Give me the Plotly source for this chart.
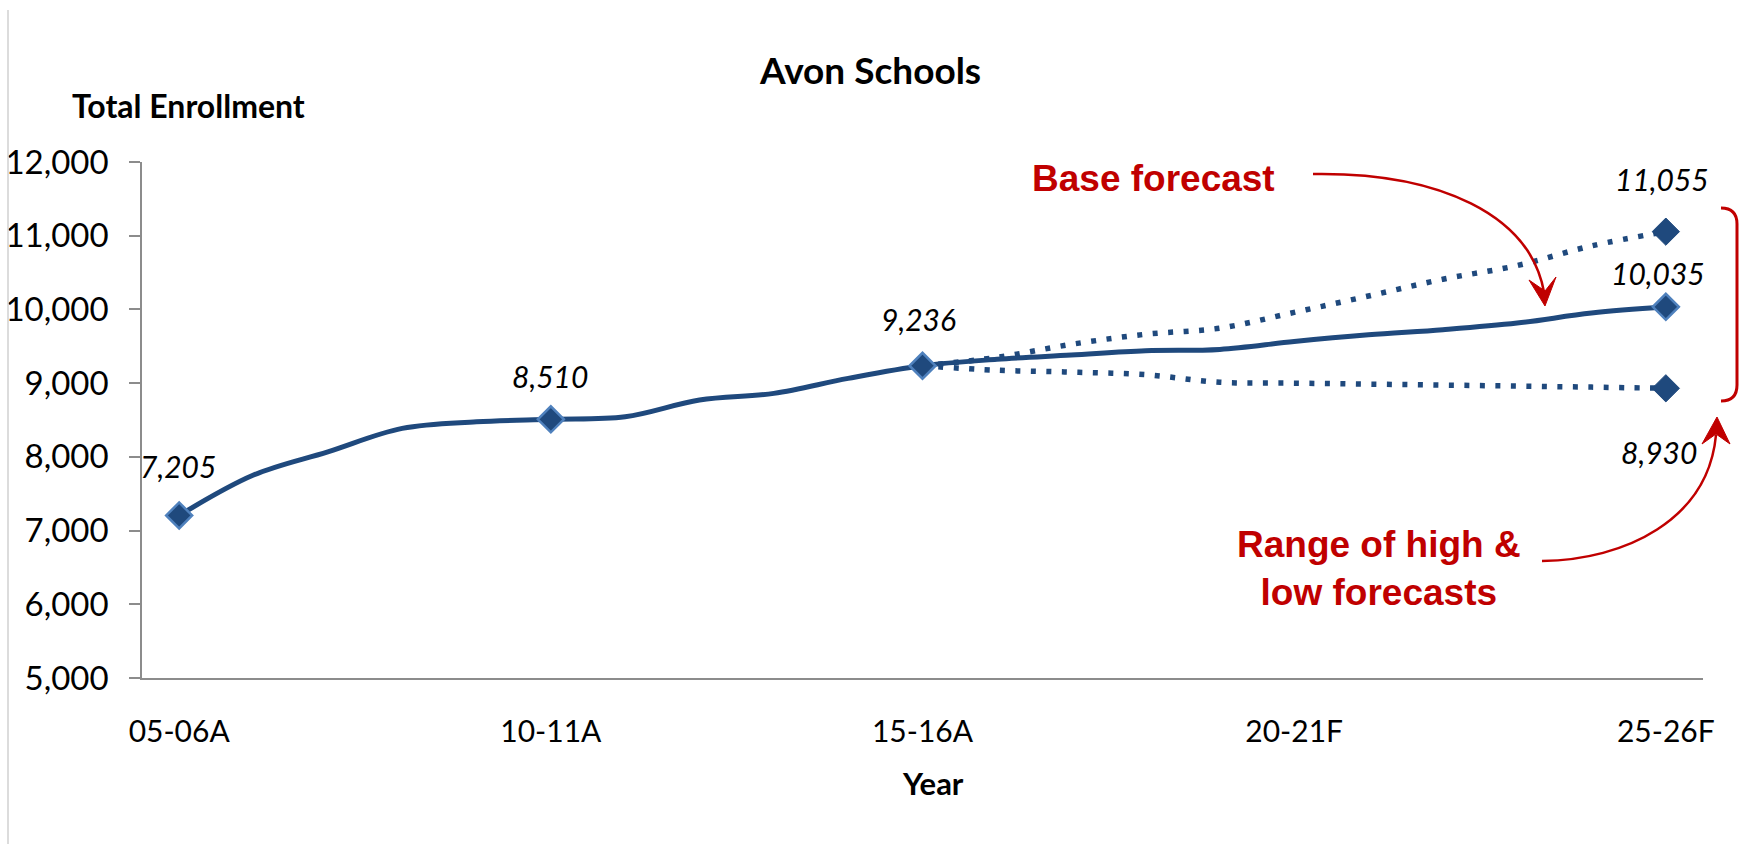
import plotly.graph_objects as go

# ---------------- data ----------------
years = ["05-06A", "06-07A", "07-08A", "08-09A", "09-10A", "10-11A", "11-12A",
         "12-13A", "13-14A", "14-15A", "15-16A", "16-17F", "17-18F", "18-19F",
         "19-20F", "20-21F", "21-22F", "22-23F", "23-24F", "24-25F", "25-26F"]
base = [7205, 7753, 8069, 8387, 8476, 8510, 8544, 8771, 8861, 9065, 9236,
        9323, 9381, 9440, 9458, 9565, 9655, 9725, 9815, 9950, 10035]
forecast_years = years[10:]
high = [9236, 9349, 9526, 9663, 9746, 9960, 10182, 10410, 10595, 10862, 11055]
low = [9236, 9175, 9150, 9115, 9012, 9000, 8987, 8974, 8960, 8946, 8930]
tick_labels = ["05-06A", "10-11A", "15-16A", "20-21F", "25-26F"]
marker_years = ["05-06A", "10-11A", "15-16A", "25-26F"]

# ---------------- layout constants ----------------
W, H = 1741, 844
ML, MR, MT, MB = 142, 38, 162, 166
PW, PH = W - ML - MR, H - MT - MB
BLUE = "#1F497D"
LIGHT = "#4F81BD"
RED = "#C00000"
GREY = "#8C8C8C"
FONT = "Lato"
RFONT = "Liberation Sans"


def pp(x, y):
    return (x - ML) / PW, 1 - (y - MT) / PH


def path_from(cmds):
    out = []
    for c in cmds:
        if isinstance(c, str):
            out.append(c)
        else:
            x, y = pp(*c)
            out.append(f"{x:.5f},{y:.5f}")
    return " ".join(out)


fig = go.Figure()

dotted = dict(color=BLUE, width=5.5, dash="5px,10.5px", shape="spline", smoothing=1)
fig.add_trace(go.Scatter(x=forecast_years, y=high, mode="lines", line=dotted,
                         hoverinfo="skip", showlegend=False))
fig.add_trace(go.Scatter(x=forecast_years, y=low, mode="lines", line=dotted,
                         hoverinfo="skip", showlegend=False))
fig.add_trace(go.Scatter(x=years, y=base, mode="lines",
                         line=dict(color=BLUE, width=5, shape="spline", smoothing=1),
                         showlegend=False))
# end markers for high / low
fig.add_trace(go.Scatter(x=[forecast_years[-1], forecast_years[-1]],
                         y=[high[-1], low[-1]], mode="markers",
                         marker=dict(symbol="diamond", size=21, color=BLUE,
                                     line=dict(color=BLUE, width=1)),
                         showlegend=False))
mvals = [base[years.index(y)] for y in marker_years]
fig.add_trace(go.Scatter(x=marker_years, y=mvals, mode="markers",
                         marker=dict(symbol="diamond", size=20, color=BLUE,
                                     line=dict(color=LIGHT, width=2.5)),
                         showlegend=False))

annotations = []
# data labels
label_specs = [(marker_years[0], mvals[0], -1, 49),
               (marker_years[1], mvals[1], -1, 43),
               (marker_years[2], mvals[2], -4, 47),
               (marker_years[3], mvals[3], -8, 34),
               (forecast_years[-1], high[-1], -4, 53),
               (forecast_years[-1], low[-1], -7, -64)]
for xv, yv, xs, ys in label_specs:
    annotations.append(dict(x=xv, y=yv, xref="x", yref="y", text=f"{yv:,}",
                            showarrow=False, xshift=xs, yshift=ys,
                            xanchor="center", yanchor="middle",
                            font=dict(family=FONT, size=30, color="black", style="italic")))


def text_at(x, y, text, size, family=FONT, color="black", bold=True):
    px, py = pp(x, y)
    annotations.append(dict(x=px, y=py, xref="paper", yref="paper",
                            text=f"<b>{text}</b>" if bold else text,
                            showarrow=False, xanchor="center", yanchor="middle",
                            font=dict(family=family, size=size, color=color)))


text_at(870, 70, "Avon Schools", 37)
text_at(188, 105, "Total Enrollment", 32)
text_at(933, 783, "Year", 31)
text_at(1153, 178, "Base forecast", 37, family=RFONT, color=RED)
annotations.append(dict(x=pp(1379, 0)[0], y=pp(0, 568)[1], xref="paper", yref="paper",
                        text="<b>Range of high &amp;<br>low forecasts</b>",
                        showarrow=False, xanchor="center", yanchor="middle",
                        font=dict(family=RFONT, size=37, color=RED)))

shapes = []
# chart frame left edge
x0, y0 = pp(8, 10)
x1, y1 = pp(8, 844)
shapes.append(dict(type="line", xref="paper", yref="paper", x0=x0, y0=y0, x1=x1, y1=y1,
                   line=dict(color="#D0D0D0", width=1.5)))
# arrow 1 (Base forecast)
shapes.append(dict(type="path", xref="paper", yref="paper",
                   path=path_from(["M", (1313, 174), "C", (1440, 172), (1530, 215), (1544, 292)]),
                   line=dict(color=RED, width=2.5)))
shapes.append(dict(type="path", xref="paper", yref="paper",
                   path=path_from(["M", (1545, 306), "L", (1529, 280), "L", (1545, 291),
                                   "L", (1556, 277), "Z"]),
                   line=dict(color=RED, width=1), fillcolor=RED))
# arrow 2 (Range)
shapes.append(dict(type="path", xref="paper", yref="paper",
                   path=path_from(["M", (1542, 561), "C", (1625, 560), (1708, 520), (1716, 435)]),
                   line=dict(color=RED, width=2.5)))
shapes.append(dict(type="path", xref="paper", yref="paper",
                   path=path_from(["M", (1717, 417), "L", (1702, 444), "L", (1716, 434),
                                   "L", (1730, 444), "Z"]),
                   line=dict(color=RED, width=1), fillcolor=RED))
# bracket
shapes.append(dict(type="path", xref="paper", yref="paper",
                   path=path_from(["M", (1721, 208), "Q", (1737, 208), (1737, 224),
                                   "L", (1737, 385), "Q", (1737, 401), (1721, 401)]),
                   line=dict(color=RED, width=3)))

fig.update_layout(
    width=W, height=H,
    margin=dict(l=ML, r=MR, t=MT, b=MB, autoexpand=False),
    paper_bgcolor="white", plot_bgcolor="white",
    font=dict(family=FONT, color="black"),
    showlegend=False,
    annotations=annotations,
    shapes=shapes,
    xaxis=dict(type="category", categoryorder="array", categoryarray=years,
               range=[-0.5, len(years) - 0.5], automargin=False,
               tickmode="array", tickvals=tick_labels, ticktext=tick_labels,
               showline=True, linecolor=GREY, linewidth=2, ticks="",
               showgrid=False, zeroline=False,
               tickfont=dict(family=FONT, size=30, color="black"),
               ticklabelstandoff=26),
    yaxis=dict(range=[5000, 12000], dtick=1000, tick0=5000, tickformat=",",
               automargin=False,
               showline=True, linecolor=GREY, linewidth=1.5,
               ticks="outside", ticklen=11, tickcolor=GREY, tickwidth=1.5,
               showgrid=False, zeroline=False,
               tickfont=dict(family=FONT, size=33, color="black"),
               ticklabelstandoff=14),
)

fig.write_html("out.html", config={"displayModeBar": False},
               post_script="document.body.style.margin='0';document.body.style.overflow='hidden';")
